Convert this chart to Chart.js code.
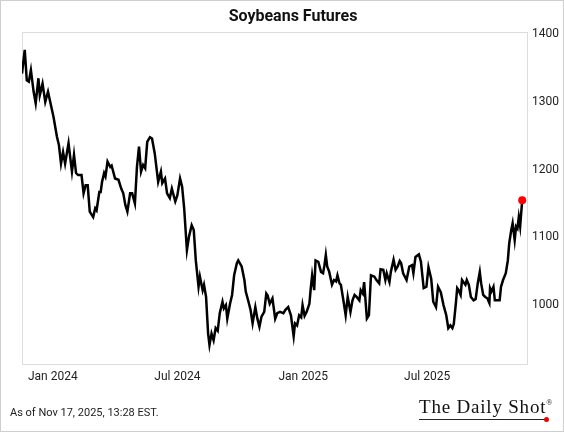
<!DOCTYPE html>
<html>
<head>
<meta charset="utf-8">
<script src="https://cdn.jsdelivr.net/npm/chart.js@4/dist/chart.umd.min.js"></script>
<style>
  html, body { margin: 0; padding: 0; background: #fff; }
  #wrap { position: relative; width: 564px; height: 432px; }
  #frame { position: absolute; left: 0; top: 0; width: 562px; height: 430px; border: 1px solid #cfcfcf; pointer-events: none; }
  #asof { position: absolute; left: 10px; top: 406px; font: 11px Roboto, sans-serif; color: #222; }
  #logo { position: absolute; left: 419px; top: 398px; font: 19px "Liberation Serif", "DejaVu Serif", serif; color: #111;
          letter-spacing: 0.8px; line-height: 18px; white-space: nowrap; }
  #logo sup { font-size: 8px; line-height: 0; vertical-align: 8px; letter-spacing: 0; }
  #rule { position: absolute; left: 419px; top: 419px; width: 128px; height: 1px; background: #222; }
  #dot { position: absolute; left: 544px; top: 417px; width: 5px; height: 5px; border-radius: 50%; background: #e00; }
</style>
</head>
<body>
<div id="wrap">
  <canvas id="chart" width="564" height="432"></canvas>
  <div id="asof">As of Nov 17, 2025, 13:28 EST.</div>
  <div id="logo">The Daily Shot<sup>®</sup></div>
  <div id="rule"></div>
  <div id="dot"></div>
  <div id="frame"></div>
</div>
<script>
const dates = [
  '2023-11-17','2023-11-21','2023-11-24','2023-11-27','2023-11-30','2023-12-04','2023-12-07','2023-12-11','2023-12-13','2023-12-17',
  '2023-12-21','2023-12-25','2024-01-02','2024-01-07','2024-01-10','2024-01-13','2024-01-16','2024-01-19','2024-01-24','2024-01-29',
  '2024-02-01','2024-02-04','2024-02-07','2024-02-12','2024-02-15','2024-02-18','2024-02-21','2024-02-24','2024-02-29','2024-03-03',
  '2024-03-05','2024-03-09','2024-03-11','2024-03-13','2024-03-16','2024-03-18','2024-03-21','2024-03-25','2024-03-27','2024-04-01',
  '2024-04-06','2024-04-10','2024-04-13','2024-04-16','2024-04-19','2024-04-23','2024-04-26','2024-04-30','2024-05-03','2024-05-06',
  '2024-05-09','2024-05-12','2024-05-15','2024-05-18','2024-05-22','2024-05-25','2024-05-29','2024-06-03','2024-06-07','2024-06-09',
  '2024-06-13','2024-06-16','2024-06-20','2024-06-23','2024-06-28','2024-07-01','2024-07-05','2024-07-08','2024-07-11','2024-07-15',
  '2024-07-18','2024-07-22','2024-07-25','2024-07-28','2024-08-01','2024-08-03','2024-08-07','2024-08-09','2024-08-12','2024-08-15',
  '2024-08-17','2024-08-20','2024-08-23','2024-08-26','2024-08-29','2024-09-01','2024-09-05','2024-09-07','2024-09-10','2024-09-12',
  '2024-09-16','2024-09-19','2024-09-22','2024-09-26','2024-09-28','2024-10-03','2024-10-07','2024-10-09','2024-10-13','2024-10-16',
  '2024-10-19','2024-10-23','2024-10-26','2024-10-29','2024-11-01','2024-11-05','2024-11-08','2024-11-10','2024-11-13','2024-11-17',
  '2024-11-21','2024-11-24','2024-11-28','2024-12-03','2024-12-06','2024-12-10','2024-12-14','2024-12-18','2024-12-20','2024-12-23',
  '2024-12-26','2024-12-29','2024-12-31','2025-01-03','2025-01-06','2025-01-10','2025-01-12','2025-01-14','2025-01-17','2025-01-19',
  '2025-01-23','2025-01-27','2025-01-30','2025-02-01','2025-02-03','2025-02-05','2025-02-08','2025-02-12','2025-02-15','2025-02-18',
  '2025-02-20','2025-02-23','2025-02-25','2025-03-01','2025-03-04','2025-03-07','2025-03-11','2025-03-14','2025-03-17','2025-03-20',
  '2025-03-24','2025-03-26','2025-03-29','2025-03-31','2025-04-04','2025-04-07','2025-04-10','2025-04-15','2025-04-18','2025-04-22',
  '2025-04-24','2025-04-28','2025-05-01','2025-05-03','2025-05-07','2025-05-09','2025-05-13','2025-05-16','2025-05-19','2025-05-22',
  '2025-05-24','2025-05-27','2025-06-01','2025-06-05','2025-06-09','2025-06-11','2025-06-14','2025-06-19','2025-06-22','2025-06-26',
  '2025-06-30','2025-07-03','2025-07-07','2025-07-10','2025-07-14','2025-07-17','2025-07-21','2025-07-25','2025-07-29','2025-08-01',
  '2025-08-04','2025-08-07','2025-08-09','2025-08-12','2025-08-14','2025-08-16','2025-08-19','2025-08-21','2025-08-23','2025-08-26',
  '2025-08-28','2025-08-31','2025-09-03','2025-09-07','2025-09-10','2025-09-13','2025-09-16','2025-09-18','2025-09-21','2025-09-24',
  '2025-09-27','2025-09-30','2025-10-01','2025-10-03','2025-10-06','2025-10-08','2025-10-12','2025-10-15','2025-10-17','2025-10-20',
  '2025-10-24','2025-10-27','2025-10-29','2025-11-01','2025-11-03','2025-11-04','2025-11-06','2025-11-08','2025-11-10','2025-11-12',
  '2025-11-14','2025-11-17'
]
const prices = [
  1342,1377,1332,1330,1347,1315,1298,1335,1310,1327,
  1300,1315,1278,1249,1236,1209,1226,1209,1239,1197,
  1222,1195,1192,1192,1165,1177,1177,1138,1130,1143,
  1140,1167,1167,1182,1195,1190,1212,1204,1206,1187,
  1185,1172,1165,1148,1138,1165,1165,1150,1204,1234,
  1197,1207,1202,1241,1248,1246,1224,1182,1197,1180,
  1187,1165,1158,1172,1153,1162,1187,1175,1143,1081,
  1101,1118,1111,1066,1027,1042,1022,1030,1012,958,
  941,958,948,966,962,988,1005,995,1000,980,
  1002,1015,1044,1062,1066,1057,1037,1020,1005,993,
  973,997,980,968,983,990,1017,1014,1002,1010,
  980,988,990,988,993,997,985,954,973,970,
  985,982,1000,984,990,1002,1025,1044,1022,1066,
  1064,1049,1047,1059,1074,1057,1049,1030,1037,1035,
  1044,1032,1030,1005,985,1012,990,1007,1015,1012,
  1007,1022,1017,1034,980,985,1044,1042,1037,1032,
  1053,1052,1037,1047,1034,1049,1067,1052,1057,1065,
  1062,1047,1037,1057,1059,1047,1071,1075,1064,1025,
  1027,1056,1039,1005,997,1027,1019,1000,985,966,
  970,966,972,1002,1025,1022,1015,1037,1034,1030,
  1037,1030,1012,1007,1009,1032,1049,1032,1015,1012,
  1010,1003,1025,1020,1027,1007,1007,1007,1027,1037,
  1047,1066,1091,1111,1121,1113,1096,1116,1113,1130,
  1116,1155
]
const xTickDates = ['2024-01-01', '2024-07-01', '2025-01-01', '2025-07-01']
const xTickLabels = ['Jan 2024', 'Jul 2024', 'Jan 2025', 'Jul 2025']
const yTicks = [1000, 1100, 1200, 1300, 1400]

function toTime(s) {
  const p = s.split('-').map(Number)
  return Date.UTC(p[0], p[1] - 1, p[2])
}

const points = dates.map((d, i) => ({ x: toTime(d), y: prices[i] }))
const last = points.length - 1

// light grey box round the plot area
const plotBox = {
  id: 'plotBox',
  beforeDatasetsDraw(chart) {
    const a = chart.chartArea
    const c = chart.ctx
    c.save()
    c.strokeStyle = '#dcdcdc'
    c.lineWidth = 1
    c.strokeRect(Math.round(a.left) + 0.5, Math.round(a.top) + 0.5, Math.round(a.right - a.left), Math.round(a.bottom - a.top))
    c.restore()
  }
}

const tickFont = { family: 'Roboto', size: 12 }

new Chart(document.getElementById('chart'), {
  type: 'line',
  data: {
    datasets: [{
      data: points,
      borderColor: '#000',
      borderWidth: 2.5,
      tension: 0,
      pointRadius: ctx => ctx.dataIndex === last ? 4 : 0,
      pointBackgroundColor: '#f00',
      pointBorderWidth: 0
    }]
  },
  options: {
    responsive: false,
    animation: false,
    layout: { padding: { left: 22, right: 0, top: 0, bottom: 44 } },
    plugins: {
      legend: { display: false },
      tooltip: { enabled: false },
      title: {
        display: true,
        text: 'Soybeans Futures',
        color: '#111',
        font: { family: 'Roboto', size: 16, weight: 'bold' },
        padding: { top: 7, bottom: 6 }
      }
    },
    scales: {
      x: {
        type: 'linear',
        min: toTime('2023-11-17'),
        max: toTime('2025-11-24'),
        grid: { display: false, drawTicks: false },
        border: { display: false },
        afterBuildTicks: s => { s.ticks = xTickDates.map(d => ({ value: toTime(d) })) },
        afterFit: s => { s.height = 24 },
        ticks: {
          padding: 6,
          color: '#222',
          font: tickFont,
          maxRotation: 0,
          autoSkip: false,
          callback: (v, i) => xTickLabels[i]
        }
      },
      y: {
        position: 'right',
        min: 913,
        max: 1403,
        grid: { display: false, drawTicks: false },
        border: { display: false },
        afterBuildTicks: s => { s.ticks = yTicks.map(v => ({ value: v })) },
        afterFit: s => { s.width = 37 },
        ticks: { padding: 5, color: '#222', font: tickFont, callback: v => String(v) }
      }
    }
  },
  plugins: [plotBox]
})
</script>
</body>
</html>
